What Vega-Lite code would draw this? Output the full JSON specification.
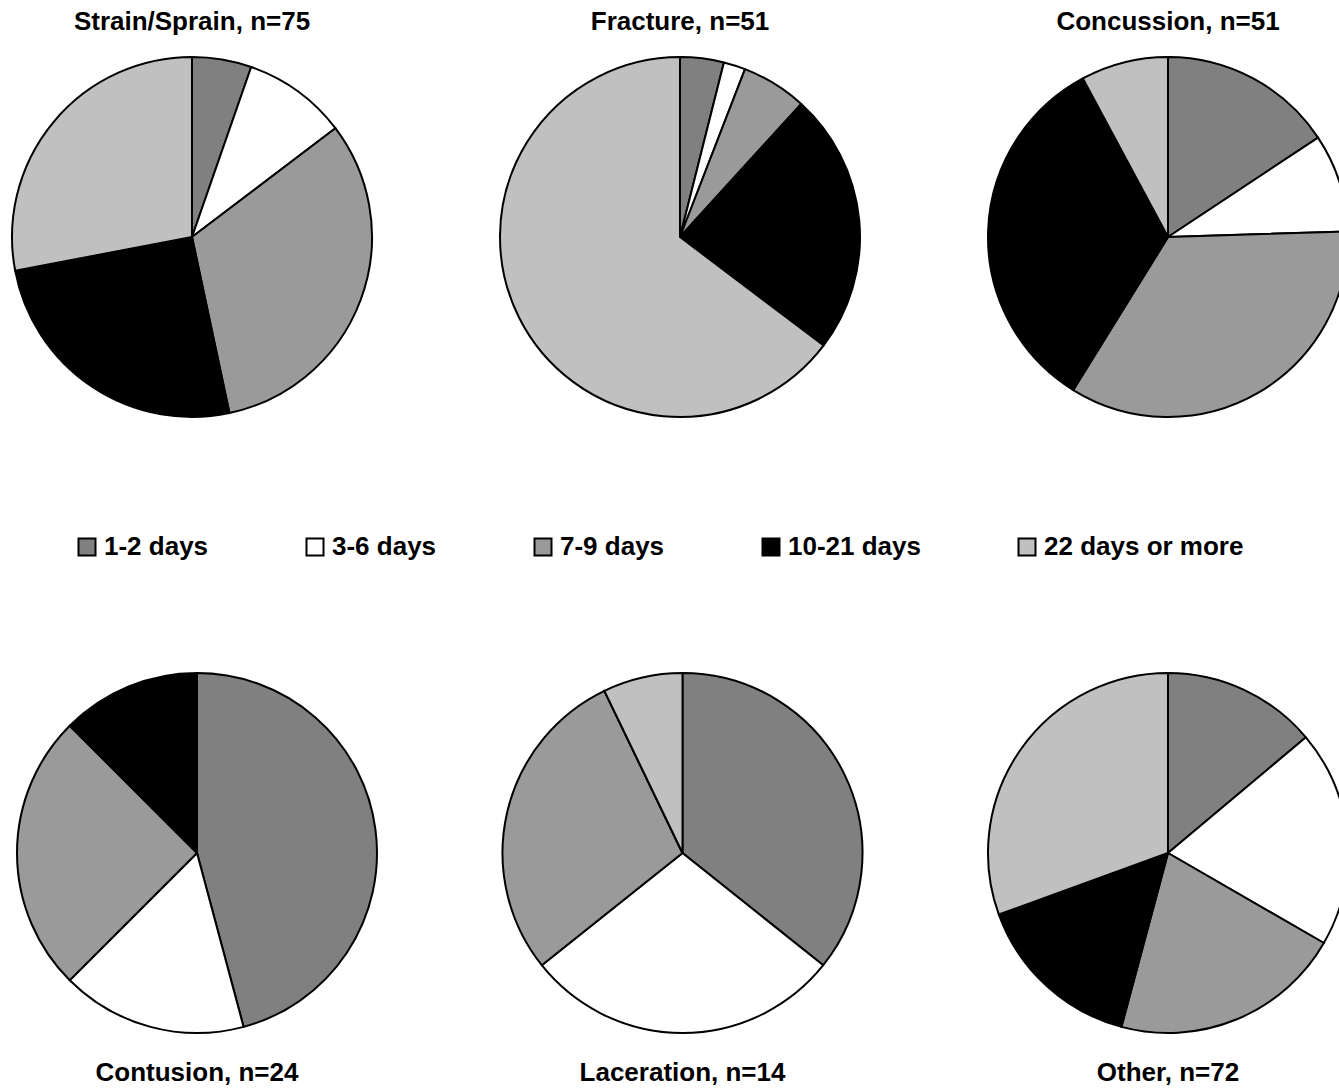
{
  "$schema": "https://vega.github.io/schema/vega-lite/v6.json",
  "padding": {"left": 11, "top": 9, "right": 0, "bottom": 0},
  "background": "white",
  "config": {
    "view": {"stroke": null},
    "font": "Liberation Sans",
    "title": {"fontSize": 26, "fontWeight": "bold", "color": "black", "font": "Liberation Sans", "anchor": "middle"}
  },
  "datasets": {
    "injuries": [
      {"injury": "Strain/Sprain", "duration": "1-2 days", "count": 4},
      {"injury": "Strain/Sprain", "duration": "3-6 days", "count": 7},
      {"injury": "Strain/Sprain", "duration": "7-9 days", "count": 24},
      {"injury": "Strain/Sprain", "duration": "10-21 days", "count": 19},
      {"injury": "Strain/Sprain", "duration": "22 days or more", "count": 21},
      {"injury": "Fracture", "duration": "1-2 days", "count": 2},
      {"injury": "Fracture", "duration": "3-6 days", "count": 1},
      {"injury": "Fracture", "duration": "7-9 days", "count": 3},
      {"injury": "Fracture", "duration": "10-21 days", "count": 12},
      {"injury": "Fracture", "duration": "22 days or more", "count": 33},
      {"injury": "Concussion", "duration": "1-2 days", "count": 8},
      {"injury": "Concussion", "duration": "3-6 days", "count": 4.5},
      {"injury": "Concussion", "duration": "7-9 days", "count": 17.5},
      {"injury": "Concussion", "duration": "10-21 days", "count": 17},
      {"injury": "Concussion", "duration": "22 days or more", "count": 4},
      {"injury": "Contusion", "duration": "1-2 days", "count": 11},
      {"injury": "Contusion", "duration": "3-6 days", "count": 4},
      {"injury": "Contusion", "duration": "7-9 days", "count": 6},
      {"injury": "Contusion", "duration": "10-21 days", "count": 3},
      {"injury": "Contusion", "duration": "22 days or more", "count": 0},
      {"injury": "Laceration", "duration": "1-2 days", "count": 5},
      {"injury": "Laceration", "duration": "3-6 days", "count": 4},
      {"injury": "Laceration", "duration": "7-9 days", "count": 4},
      {"injury": "Laceration", "duration": "10-21 days", "count": 0},
      {"injury": "Laceration", "duration": "22 days or more", "count": 1},
      {"injury": "Other", "duration": "1-2 days", "count": 10},
      {"injury": "Other", "duration": "3-6 days", "count": 14},
      {"injury": "Other", "duration": "7-9 days", "count": 15},
      {"injury": "Other", "duration": "10-21 days", "count": 11},
      {"injury": "Other", "duration": "22 days or more", "count": 22}
    ]
  },
  "spacing": 254,
  "vconcat": [
    {
      "spacing": 126,
      "hconcat": [
        {
          "title": {"text": "Strain/Sprain, n=75", "orient": "top", "offset": 21},
          "width": 360, "height": 360,
          "data": {"name": "injuries"},
          "transform": [{"filter": "datum.injury === 'Strain/Sprain'"}, {"calculate": "indexof(['1-2 days','3-6 days','7-9 days','10-21 days','22 days or more'], datum.duration)", "as": "rank"}],
          "mark": {"type": "arc", "stroke": "black", "strokeWidth": 2, "outerRadius": 180, "strokeJoin": "round"},
          "encoding": {
            "theta": {"field": "count", "type": "quantitative", "stack": true},
            "order": {"field": "rank", "type": "quantitative"},
            "color": {
              "field": "duration", "type": "nominal",
              "scale": {"domain": ["1-2 days", "3-6 days", "7-9 days", "10-21 days", "22 days or more"], "range": ["#808080", "#ffffff", "#9a9a9a", "#000000", "#c0c0c0"]},
              "legend": {
                "orient": "none", "direction": "horizontal", "legendX": 62, "legendY": 477,
                "title": null, "padding": 0,
                "symbolType": "square", "symbolSize": 289, "symbolStrokeColor": "black", "symbolStrokeWidth": 2, "symbolOpacity": 1,
                "labelFontSize": 26, "labelFont": "Liberation Sans", "labelFontWeight": "bold", "labelColor": "black", "labelOffset": 4, "labelLimit": 400,
                "columnPadding": 93
              }
            }
          }
        },
        {
          "title": {"text": "Fracture, n=51", "orient": "top", "offset": 21},
          "width": 360, "height": 360,
          "data": {"name": "injuries"},
          "transform": [{"filter": "datum.injury === 'Fracture'"}, {"calculate": "indexof(['1-2 days','3-6 days','7-9 days','10-21 days','22 days or more'], datum.duration)", "as": "rank"}],
          "mark": {"type": "arc", "stroke": "black", "strokeWidth": 2, "outerRadius": 180, "strokeJoin": "round"},
          "encoding": {
            "theta": {"field": "count", "type": "quantitative", "stack": true},
            "order": {"field": "rank", "type": "quantitative"},
            "color": {"field": "duration", "type": "nominal"}
          }
        },
        {
          "title": {"text": "Concussion, n=51", "orient": "top", "offset": 21},
          "width": 360, "height": 360,
          "data": {"name": "injuries"},
          "transform": [{"filter": "datum.injury === 'Concussion'"}, {"calculate": "indexof(['1-2 days','3-6 days','7-9 days','10-21 days','22 days or more'], datum.duration)", "as": "rank"}],
          "mark": {"type": "arc", "stroke": "black", "strokeWidth": 2, "outerRadius": 180, "strokeJoin": "round"},
          "encoding": {
            "theta": {"field": "count", "type": "quantitative", "stack": true},
            "order": {"field": "rank", "type": "quantitative"},
            "color": {"field": "duration", "type": "nominal"}
          }
        }
      ]
    },
    {
      "spacing": 115.5,
      "hconcat": [
        {
          "title": {"text": "Contusion, n=24", "orient": "bottom", "offset": 26, "baseline": "top"},
          "width": 370, "height": 360,
          "data": {"name": "injuries"},
          "transform": [{"filter": "datum.injury === 'Contusion'"}, {"calculate": "indexof(['1-2 days','3-6 days','7-9 days','10-21 days','22 days or more'], datum.duration)", "as": "rank"}],
          "mark": {"type": "arc", "stroke": "black", "strokeWidth": 2, "outerRadius": 180, "strokeJoin": "round"},
          "encoding": {
            "theta": {"field": "count", "type": "quantitative", "stack": true},
            "order": {"field": "rank", "type": "quantitative"},
            "color": {"field": "duration", "type": "nominal"}
          }
        },
        {
          "title": {"text": "Laceration, n=14", "orient": "bottom", "offset": 26, "baseline": "top"},
          "width": 370, "height": 360,
          "data": {"name": "injuries"},
          "transform": [{"filter": "datum.injury === 'Laceration'"}, {"calculate": "indexof(['1-2 days','3-6 days','7-9 days','10-21 days','22 days or more'], datum.duration)", "as": "rank"}],
          "mark": {"type": "arc", "stroke": "black", "strokeWidth": 2, "outerRadius": 180, "strokeJoin": "round"},
          "encoding": {
            "theta": {"field": "count", "type": "quantitative", "stack": true},
            "order": {"field": "rank", "type": "quantitative"},
            "color": {"field": "duration", "type": "nominal"}
          }
        },
        {
          "title": {"text": "Other, n=72", "orient": "bottom", "offset": 26, "baseline": "top"},
          "width": 370, "height": 360,
          "data": {"name": "injuries"},
          "transform": [{"filter": "datum.injury === 'Other'"}, {"calculate": "indexof(['1-2 days','3-6 days','7-9 days','10-21 days','22 days or more'], datum.duration)", "as": "rank"}],
          "mark": {"type": "arc", "stroke": "black", "strokeWidth": 2, "outerRadius": 180, "strokeJoin": "round"},
          "encoding": {
            "theta": {"field": "count", "type": "quantitative", "stack": true},
            "order": {"field": "rank", "type": "quantitative"},
            "color": {"field": "duration", "type": "nominal"}
          }
        }
      ]
    }
  ],
  "resolve": {"scale": {"color": "shared"}}
}
